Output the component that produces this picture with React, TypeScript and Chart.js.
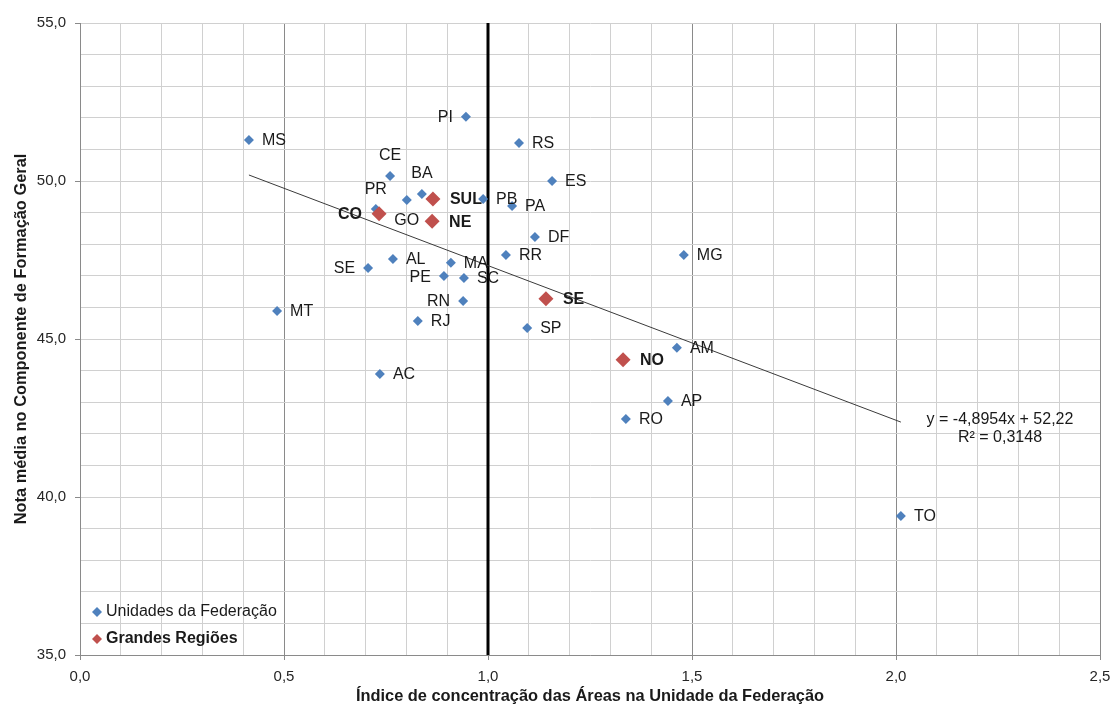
import React, { useEffect, useRef } from "react";
import { Chart, registerables } from "chart.js";

Chart.register(...registerables);

// ---- Data ----
const ufNames = ["MS", "PI", "RS", "CE", "ES", "BA", "GO", "PR", "PB", "PA", "DF", "RR", "MG", "AL", "MA", "SE", "PE", "SC", "RN", "RJ", "SP", "AC", "MT", "AM", "AP", "RO", "TO"];
const ufX = [0.414, 0.946, 1.076, 0.760, 1.157, 0.838, 0.801, 0.725, 0.988, 1.059, 1.115, 1.044, 1.480, 0.767, 0.909, 0.706, 0.892, 0.941, 0.939, 0.828, 1.096, 0.735, 0.483, 1.463, 1.441, 1.338, 2.012];
const ufY = [51.30, 52.03, 51.20, 50.16, 50.00, 49.59, 49.40, 49.11, 49.43, 49.21, 48.23, 47.66, 47.66, 47.53, 47.41, 47.25, 46.99, 46.93, 46.20, 45.57, 45.35, 43.89, 45.89, 44.72, 43.04, 42.47, 39.40];

const regionNames = ["SUL", "NE", "CO", "SE", "NO"];
const regionX = [0.865, 0.863, 0.733, 1.142, 1.331];
const regionY = [49.43, 48.73, 48.96, 46.27, 44.34];

// Trend line (y = -4,8954x + 52,22), endpoints as drawn
const trendX = [0.414, 2.012];
const trendY = [50.19, 42.37];

// Vertical reference line at x = 1,0
const refX = [1.0, 1.0];
const refY = [35, 55];

const equationText = "y = -4,8954x + 52,22";
const r2Text = "R² = 0,3148";

const seriesLabels = ["Unidades da Federação", "Grandes Regiões"];
const xTitle = "Índice de concentração das Áreas na Unidade da Federação";
const yTitle = "Nota média no Componente de Formação Geral";

// label placement (r = right, l = left, a = above, b = below)
const ufPlace = ["r", "l", "r", "a", "r", "a", "b", "a", "r", "r", "r", "r", "r", "r", "r", "l", "l", "r", "l", "r", "r", "r", "r", "r", "r", "r", "r"];
const regionPlace = ["r", "r", "l", "r", "r"];

const BLUE = "#4F81BD";
const RED = "#C0504D";
const FONT = "'Liberation Sans', Arial, sans-serif";

const fmt = (v: number) => v.toFixed(1).replace(".", ",");
const isMajorX = (v: number) => Math.abs(v * 2 - Math.round(v * 2)) < 1e-6;
const isMajorY = (v: number) => Math.abs(v / 5 - Math.round(v / 5)) < 1e-6;

function diamond(ctx: CanvasRenderingContext2D, x: number, y: number, r: number, color: string) {
  ctx.beginPath();
  ctx.moveTo(x - r, y);
  ctx.lineTo(x, y - r);
  ctx.lineTo(x + r, y);
  ctx.lineTo(x, y + r);
  ctx.closePath();
  ctx.fillStyle = color;
  ctx.fill();
}

const overlayPlugin = {
  id: "overlay",
  afterDatasetsDraw(chart: any) {
    const { ctx, scales } = chart;
    const xs = scales.x;
    const ys = scales.y;
    ctx.save();
    ctx.textBaseline = "middle";
    ctx.fillStyle = "#1a1a1a";

    const draw = (name: string, vx: number, vy: number, place: string, bold: boolean, off: number) => {
      const px = xs.getPixelForValue(vx);
      const py = ys.getPixelForValue(vy);
      ctx.font = `${bold ? "bold " : ""}16px ${FONT}`;
      ctx.fillStyle = "#1a1a1a";
      if (place === "r") {
        ctx.textAlign = "left";
        ctx.fillText(name, px + off, py + 1);
      } else if (place === "l") {
        ctx.textAlign = "right";
        ctx.fillText(name, px - off, py + 1);
      } else if (place === "a") {
        ctx.textAlign = "center";
        ctx.fillText(name, px, py - 20);
      } else {
        ctx.textAlign = "center";
        ctx.fillText(name, px, py + 21);
      }
    };

    ufNames.forEach((n, i) => draw(n, ufX[i], ufY[i], ufPlace[i], false, 13));
    regionNames.forEach((n, i) => draw(n, regionX[i], regionY[i], regionPlace[i], true, 17));

    // equation
    ctx.font = `16px ${FONT}`;
    ctx.textAlign = "center";
    ctx.fillStyle = "#1a1a1a";
    ctx.fillText(equationText, 1000, 420);
    ctx.fillText(r2Text, 1000, 438);

    // legend
    const lx = 97;
    diamond(ctx, lx, 612, 5, BLUE);
    diamond(ctx, lx, 639, 5, RED);
    ctx.textAlign = "left";
    ctx.fillStyle = "#1a1a1a";
    ctx.font = `16px ${FONT}`;
    ctx.fillText(seriesLabels[0], 106, 612);
    ctx.font = `bold 16px ${FONT}`;
    ctx.fillText(seriesLabels[1], 106, 639);
    ctx.restore();
  },
};

export default function App() {
  const ref = useRef<HTMLCanvasElement | null>(null);
  useEffect(() => {
    if (!ref.current) return;
    const chart = new Chart(ref.current, {
      type: "scatter",
      data: {
        datasets: [
          {
            label: seriesLabels[1],
            data: regionX.map((x, i) => ({ x, y: regionY[i] })),
            backgroundColor: RED,
            borderColor: RED,
            borderWidth: 0,
            pointStyle: "rectRot",
            pointRadius: 7.5,
            order: 0,
          },
          {
            label: seriesLabels[0],
            data: ufX.map((x, i) => ({ x, y: ufY[i] })),
            backgroundColor: BLUE,
            borderColor: BLUE,
            borderWidth: 0,
            pointStyle: "rectRot",
            pointRadius: 5,
            order: 1,
          },
          {
            type: "line",
            label: "trend",
            data: trendX.map((x, i) => ({ x, y: trendY[i] })),
            borderColor: "#3a3a3a",
            borderWidth: 1,
            pointRadius: 0,
            fill: false,
            order: 2,
          } as any,
          {
            type: "line",
            label: "ref",
            data: refX.map((x, i) => ({ x, y: refY[i] })),
            borderColor: "#000000",
            borderWidth: 3,
            pointRadius: 0,
            fill: false,
            order: 3,
          } as any,
        ],
      },
      options: {
        responsive: false,
        animation: false,
        layout: { padding: { top: 23, right: 11, left: 0, bottom: 0 } },
        plugins: { legend: { display: false }, tooltip: { enabled: false } },
        scales: {
          x: {
            type: "linear",
            min: 0,
            max: 2.5,
            afterBuildTicks: (s: any) => {
              const t = [];
              for (let i = 0; i <= 25; i++) t.push({ value: i / 10 });
              s.ticks = t;
            },
            afterFit: (s: any) => {
              s.height = 51;
              s.paddingRight = 0;
              s.paddingLeft = 0;
            },
            ticks: {
              autoSkip: false,
              maxRotation: 0,
              padding: 8,
              color: "#262626",
              font: { family: FONT, size: 15 },
              callback: (v: any) => (isMajorX(Number(v)) ? fmt(Number(v)) : ""),
            },
            grid: {
              color: (c: any) => (isMajorX(c.tick.value) ? "#8a8a8a" : "#d0d0d0"),
              tickColor: (c: any) => (isMajorX(c.tick.value) ? "#8a8a8a" : "rgba(0,0,0,0)"),
              tickLength: 5,
            },
            border: { color: "#8a8a8a", width: 1 },
            title: {
              display: true,
              text: xTitle,
              color: "#1a1a1a",
              font: { family: FONT, size: 16.4, weight: "bold" },
              padding: { top: 0, bottom: 0 },
            },
          },
          y: {
            type: "linear",
            min: 35,
            max: 55,
            afterBuildTicks: (s: any) => {
              const t = [];
              for (let i = 35; i <= 55; i++) t.push({ value: i });
              s.ticks = t;
            },
            afterFit: (s: any) => {
              s.width = 80;
              s.paddingTop = 0;
              s.paddingBottom = 0;
            },
            ticks: {
              autoSkip: false,
              padding: 9,
              color: "#262626",
              font: { family: FONT, size: 15 },
              callback: (v: any) => (isMajorY(Number(v)) ? fmt(Number(v)) : ""),
            },
            grid: {
              color: "#d0d0d0",
              tickColor: (c: any) => (isMajorY(c.tick.value) ? "#8a8a8a" : "rgba(0,0,0,0)"),
              tickLength: 5,
            },
            border: { color: "#8a8a8a", width: 1 },
            title: {
              display: true,
              text: yTitle,
              color: "#1a1a1a",
              font: { family: FONT, size: 16.4, weight: "bold" },
              padding: { top: 12, bottom: 0 },
            },
          },
        },
      },
      plugins: [overlayPlugin],
    } as any);
    return () => chart.destroy();
  }, []);

  return (
    <div style={{ position: "absolute", left: 0, top: 0, width: 1111, height: 706, background: "#fff" }}>
      <canvas ref={ref} width={1111} height={706} style={{ display: "block" }} />
    </div>
  );
}
